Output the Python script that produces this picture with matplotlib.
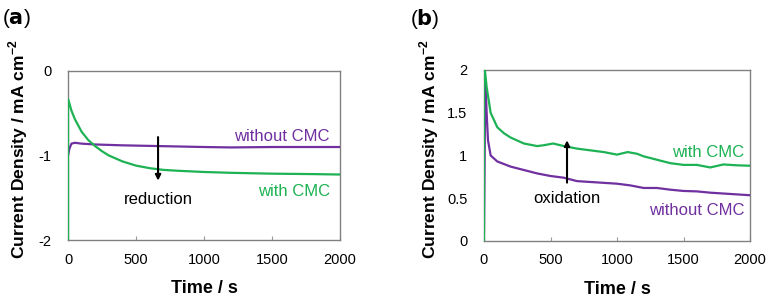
import matplotlib
matplotlib.use('Agg')
import matplotlib.pyplot as plt

plt.rcParams['font.family'] = ['Liberation Sans', 'DejaVu Sans']

GREEN = '#1db254'
PURPLE = '#7030a0'

# (a) reduction
t_a_with = [0, 0, 25, 50, 100, 150, 200, 250, 300, 400, 500, 600, 700, 800, 1000, 1200, 1500, 1800, 2000]
j_a_with = [-2.0, -0.33, -0.47, -0.57, -0.72, -0.82, -0.89, -0.95, -1.00, -1.07, -1.12, -1.15, -1.17, -1.18,
            -1.195, -1.205, -1.215, -1.22, -1.225]
t_a_without = [0, 10, 25, 50, 100, 200, 400, 700, 1000, 1200, 1500, 2000]
j_a_without = [-1.0, -0.92, -0.86, -0.85, -0.86, -0.87, -0.88, -0.89, -0.90, -0.905, -0.90, -0.90]

# (b) oxidation
t_b_with = [0, 0, 10, 20, 50, 100, 150, 200, 300, 400, 450, 520, 600, 700, 800, 900, 1000, 1080, 1150,
            1200, 1300, 1400, 1500, 1600, 1700, 1800, 1900, 2000]
j_b_with = [0.0, 2.1, 1.95, 1.8, 1.5, 1.33, 1.26, 1.21, 1.14, 1.11, 1.12, 1.14, 1.11, 1.08, 1.06, 1.04,
            1.01, 1.04, 1.02, 0.99, 0.95, 0.91, 0.89, 0.89, 0.86, 0.895, 0.885, 0.88]
t_b_without = [0, 10, 20, 30, 50, 100, 200, 300, 400, 500, 600, 700, 800, 900, 1000, 1100, 1200, 1300,
               1400, 1500, 1600, 1700, 1800, 1900, 2000]
j_b_without = [0.1, 1.9, 1.5, 1.18, 1.0, 0.93, 0.87, 0.83, 0.79, 0.76, 0.74, 0.70, 0.69, 0.68, 0.67, 0.65,
               0.62, 0.62, 0.60, 0.585, 0.58, 0.565, 0.555, 0.545, 0.535]

x_ticks = [0, 500, 1000, 1500, 2000]
ylabel = 'Current Density / mA cm$^{\\mathregular{-2}}$'


def style(ax, yticks, ylim, ylab_x):
    ax.set_xlim(0, 2000)
    ax.set_ylim(*ylim)
    ax.set_xticks(x_ticks)
    ax.set_yticks(yticks)
    ax.set_yticklabels([f'{v:g}' for v in yticks])
    ax.tick_params(axis='x', direction='in', length=3, color='#999999', pad=9, labelsize=10.5)
    ax.tick_params(axis='y', length=0, pad=12, labelsize=10.5)
    for s in ax.spines.values():
        s.set_color('#808080')
        s.set_linewidth(1.0)
    ax.set_xlabel('Time / s', fontsize=13, fontweight='bold')
    ax.set_ylabel(ylabel, fontsize=12.6, fontweight='bold')
    ax.xaxis.set_label_coords(0.5, -0.235)
    ax.yaxis.set_label_coords(ylab_x, 0.54)


fig = plt.figure(figsize=(7.67, 2.99), dpi=100)
ax1 = fig.add_axes([0.0887, 0.197, 0.3546, 0.566])
ax2 = fig.add_axes([0.631, 0.194, 0.347, 0.572])

ax1.plot(t_a_without, j_a_without, color=PURPLE, lw=1.6, zorder=3)
ax1.plot(t_a_with, j_a_with, color=GREEN, lw=1.6, zorder=3)
style(ax1, [-2, -1, 0], (-2, 0), -0.14)
ax1.text(1926, -0.78, 'without CMC', color=PURPLE, fontsize=12, ha='right', va='center')
ax1.text(1926, -1.42, 'with CMC', color=GREEN, fontsize=12, ha='right', va='center')
ax1.text(662, -1.515, 'reduction', color='black', fontsize=12, ha='center', va='center')
ax1.annotate('', xy=(662, -1.33), xytext=(662, -0.75),
             arrowprops=dict(arrowstyle='-|>', color='black', lw=1.5, mutation_scale=8))

ax2.plot(t_b_without, j_b_without, color=PURPLE, lw=1.6, zorder=3)
ax2.plot(t_b_with, j_b_with, color=GREEN, lw=1.6, zorder=3)
style(ax2, [0, 0.5, 1, 1.5, 2], (0, 2), -0.16)
ax2.text(1955, 1.04, 'with CMC', color=GREEN, fontsize=12, ha='right', va='center')
ax2.text(1955, 0.36, 'without CMC', color=PURPLE, fontsize=12, ha='right', va='center')
ax2.text(624, 0.50, 'oxidation', color='black', fontsize=12, ha='center', va='center')
ax2.annotate('', xy=(624, 1.21), xytext=(624, 0.65),
             arrowprops=dict(arrowstyle='-|>', color='black', lw=1.5, mutation_scale=8))

fig.text(0.003, 0.975, '($\\bf{a}$)', fontsize=15, va='top', ha='left')
fig.text(0.535, 0.975, '($\\bf{b}$)', fontsize=15, va='top', ha='left')

fig.savefig('out.png', dpi=100)
